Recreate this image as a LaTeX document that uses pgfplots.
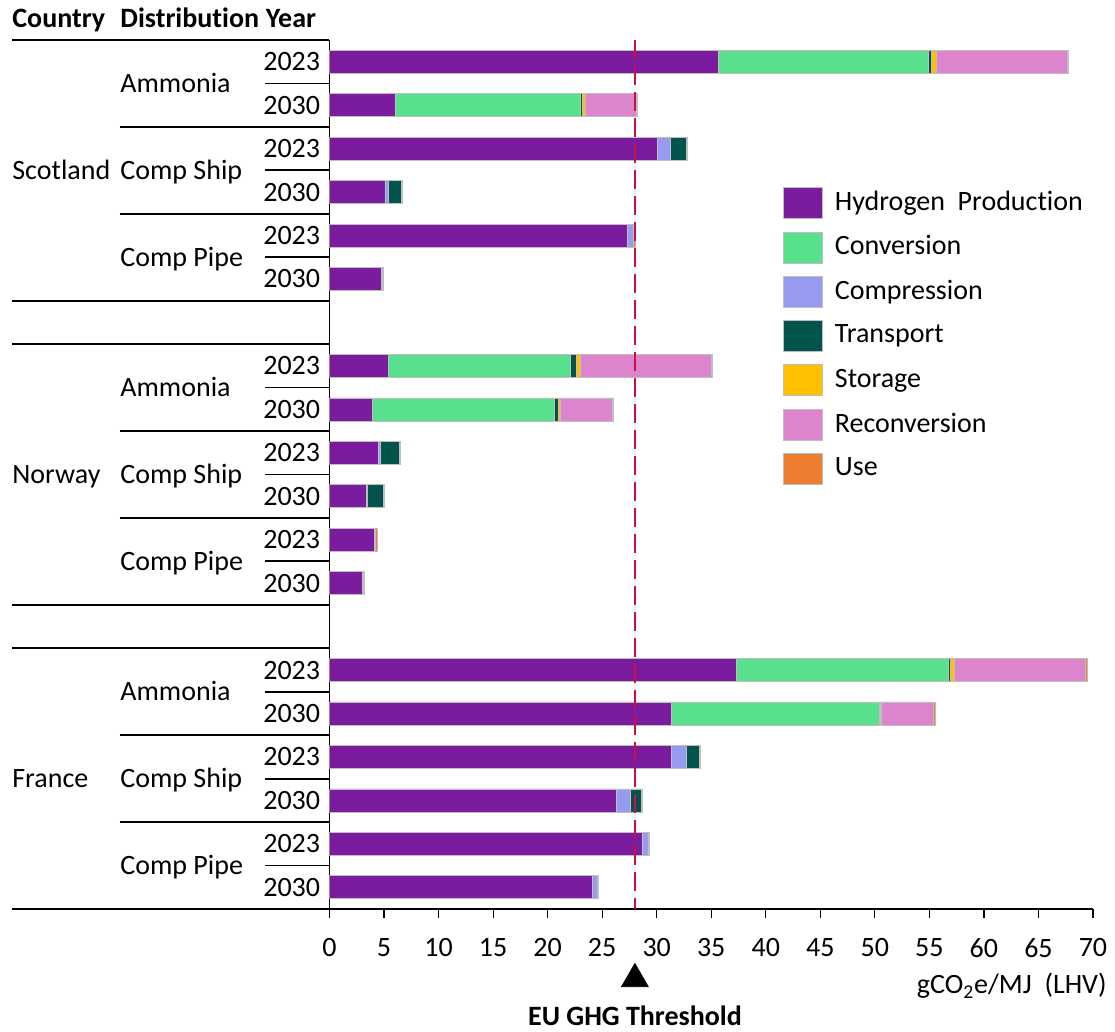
\documentclass[border=0pt]{standalone}
\usepackage{pgfplots}
\pgfplotsset{compat=1.18}
\usepackage{pgfplotstable}
\usepackage{fontspec}
\setmainfont{Carlito}[Ligatures=NoCommon]
\definecolor{cH}{RGB}{123,27,157}
\definecolor{cConv}{RGB}{88,224,140}
\definecolor{cComp}{RGB}{151,155,239}
\definecolor{cTrans}{RGB}{0,84,76}
\definecolor{cStor}{RGB}{255,192,0}
\definecolor{cRecon}{RGB}{220,132,206}
\definecolor{cUse}{RGB}{237,125,49}
\definecolor{cThr}{RGB}{200,16,70}
\pgfplotstableread{
y h2 conv comp trans stor recon use
19 35.65 19.29 0    0.27 0.40 12.03 0.10
18 6.07  16.90 0    0.21 0.24 4.68  0.16
17 30.05 0     1.23 1.41 0    0     0.15
16 5.15  0     0.21 1.22 0    0     0.13
15 27.30 0     0.55 0    0    0     0.15
14 4.72  0     0.09 0    0    0     0.12
12 5.36  16.69 0    0.61 0.31 12.01 0.09
11 3.92  16.69 0    0.34 0.18 4.80  0.08
10 4.47  0     0.22 1.71 0    0     0.09
9  3.37  0     0.10 1.46 0    0     0.09
8  4.14  0     0.10 0    0    0     0.11
7  3.04  0     0.10 0    0    0     0.09
5  37.33 19.40 0    0.16 0.39 12.05 0.12
4  31.37 19.07 0    0.10 0.05 4.81  0.11
3  31.37 0     1.38 1.13 0    0     0.09
2  26.33 0     1.25 1.01 0    0     0.13
1  28.68 0     0.55 0    0    0     0.13
0  24.09 0     0.46 0    0    0     0.13
}\data
\begin{document}
\fontsize{14pt}{16.8pt}\selectfont
\begin{tikzpicture}
\useasboundingbox (-164.75pt,-61.5pt) rectangle (392.75pt,454.5pt);
\begin{axis}[
  at={(0,0)}, anchor=south west,
  scale only axis, width=381.75pt, height=434.5pt,
  xmin=0, xmax=70, ymin=-0.5, ymax=19.5,
  xbar stacked, bar width=11.5pt,
  axis x line=bottom, axis y line=left,
  axis line style={-, line width=0.8pt, black},
  xtick={0,5,...,70},
  tick align=outside, major tick length=4.5pt,
  x tick style={black, line width=0.6pt},
  y tick style={draw=none},
  ytick={19,18,17,16,15,14,12,11,10,9,8,7,5,4,3,2,1,0},
  yticklabels={2023,2030,2023,2030,2023,2030,2023,2030,2023,2030,2023,2030,2023,2030,2023,2030,2023,2030},
  yticklabel style={inner sep=0pt},
  /pgf/number format/assume math mode=true,
  tick label style={font=\fontsize{14pt}{16.8pt}\selectfont},
  xticklabel style={yshift=-5.5pt},
  legend cell align=left,
  legend image code/.code={\draw[#1,draw=black!25,line width=0.3pt] (0pt,-7.75pt) rectangle (19.8pt,7.75pt);},
  legend style={at={(0.5936,0.8305)}, anchor=north west, draw=none, fill=none,
    inner sep=0pt, outer sep=0pt, row sep=6.35pt, column sep=6pt,
    nodes={inner sep=0pt, anchor=west}, font=\fontsize{14pt}{16.8pt}\selectfont},
]
\addplot[fill=cH, draw=black!25, line width=0.3pt] table[x=h2,y=y] {\data};
\addplot[fill=cConv, draw=black!25, line width=0.3pt] table[x=conv,y=y] {\data};
\addplot[fill=cComp, draw=black!25, line width=0.3pt] table[x=comp,y=y] {\data};
\addplot[fill=cTrans, draw=black!25, line width=0.3pt] table[x=trans,y=y] {\data};
\addplot[fill=cStor, draw=black!25, line width=0.3pt] table[x=stor,y=y] {\data};
\addplot[fill=cRecon, draw=black!25, line width=0.3pt] table[x=recon,y=y] {\data};
\addplot[fill=cUse, draw=black!25, line width=0.3pt] table[x=use,y=y] {\data};
\legend{Hydrogen~ Production, Conversion, Compression, Transport, Storage, Reconversion, Use}
\end{axis}
\begin{axis}[
  at={(0,0)}, anchor=south west,
  scale only axis, width=381.75pt, height=434.5pt,
  xmin=0, xmax=70, ymin=-0.5, ymax=19.5,
  hide axis, clip=false,
]
\addplot[draw=cThr, line width=1.2pt, dash pattern=on 9.5pt off 3.5pt] coordinates {(28,19.5) (28,-0.5)};
\addplot[only marks, mark=triangle*, mark size=7.7pt, black] coordinates {(28,-2.111)};
\end{axis}
% table lines
\foreach \k in {0,6,7,13,14,20}
  \draw[line width=0.9pt] (-158.75pt,{(20-\k)*21.725pt}) -- (0pt,{(20-\k)*21.725pt});
\foreach \k in {2,4,9,11,16,18}
  \draw[line width=0.9pt] (-104.75pt,{(20-\k)*21.725pt}) -- (0pt,{(20-\k)*21.725pt});
\foreach \k in {1,3,5,8,10,12,15,17,19}
  \draw[line width=0.9pt] (-32.35pt,{(20-\k)*21.725pt}) -- (0pt,{(20-\k)*21.725pt});
% headers
\node[anchor=base west, inner sep=0pt, font=\bfseries] at (-158.75pt,440.7pt) {Country};
\node[anchor=base west, inner sep=0pt, font=\bfseries] at (-104.75pt,440.7pt) {Distribution};
\node[anchor=base west, inner sep=0pt, font=\bfseries] at (-32pt,440.7pt) {Year};
% countries
\foreach \k/\t in {3/Scotland,10/Norway,17/France}
  \node[anchor=base west, inner sep=0pt] at (-158.75pt,{(20-\k)*21.725pt-4.5pt}) {\t};
\foreach \k/\t in {1/Ammonia,3/Comp Ship,5/Comp Pipe,8/Ammonia,10/Comp Ship,12/Comp Pipe,15/Ammonia,17/Comp Ship,19/Comp Pipe}
  \node[anchor=base west, inner sep=0pt] at (-104.75pt,{(20-\k)*21.725pt-4.5pt}) {\t};
\node[anchor=east, inner sep=0pt] at (388.75pt,-38.5pt) {gCO\textsubscript{2}e/MJ~ (LHV)};
\node[inner sep=0pt, font=\bfseries] at (152.75pt,-53.5pt) {EU GHG Threshold};
\end{tikzpicture}
\end{document}
